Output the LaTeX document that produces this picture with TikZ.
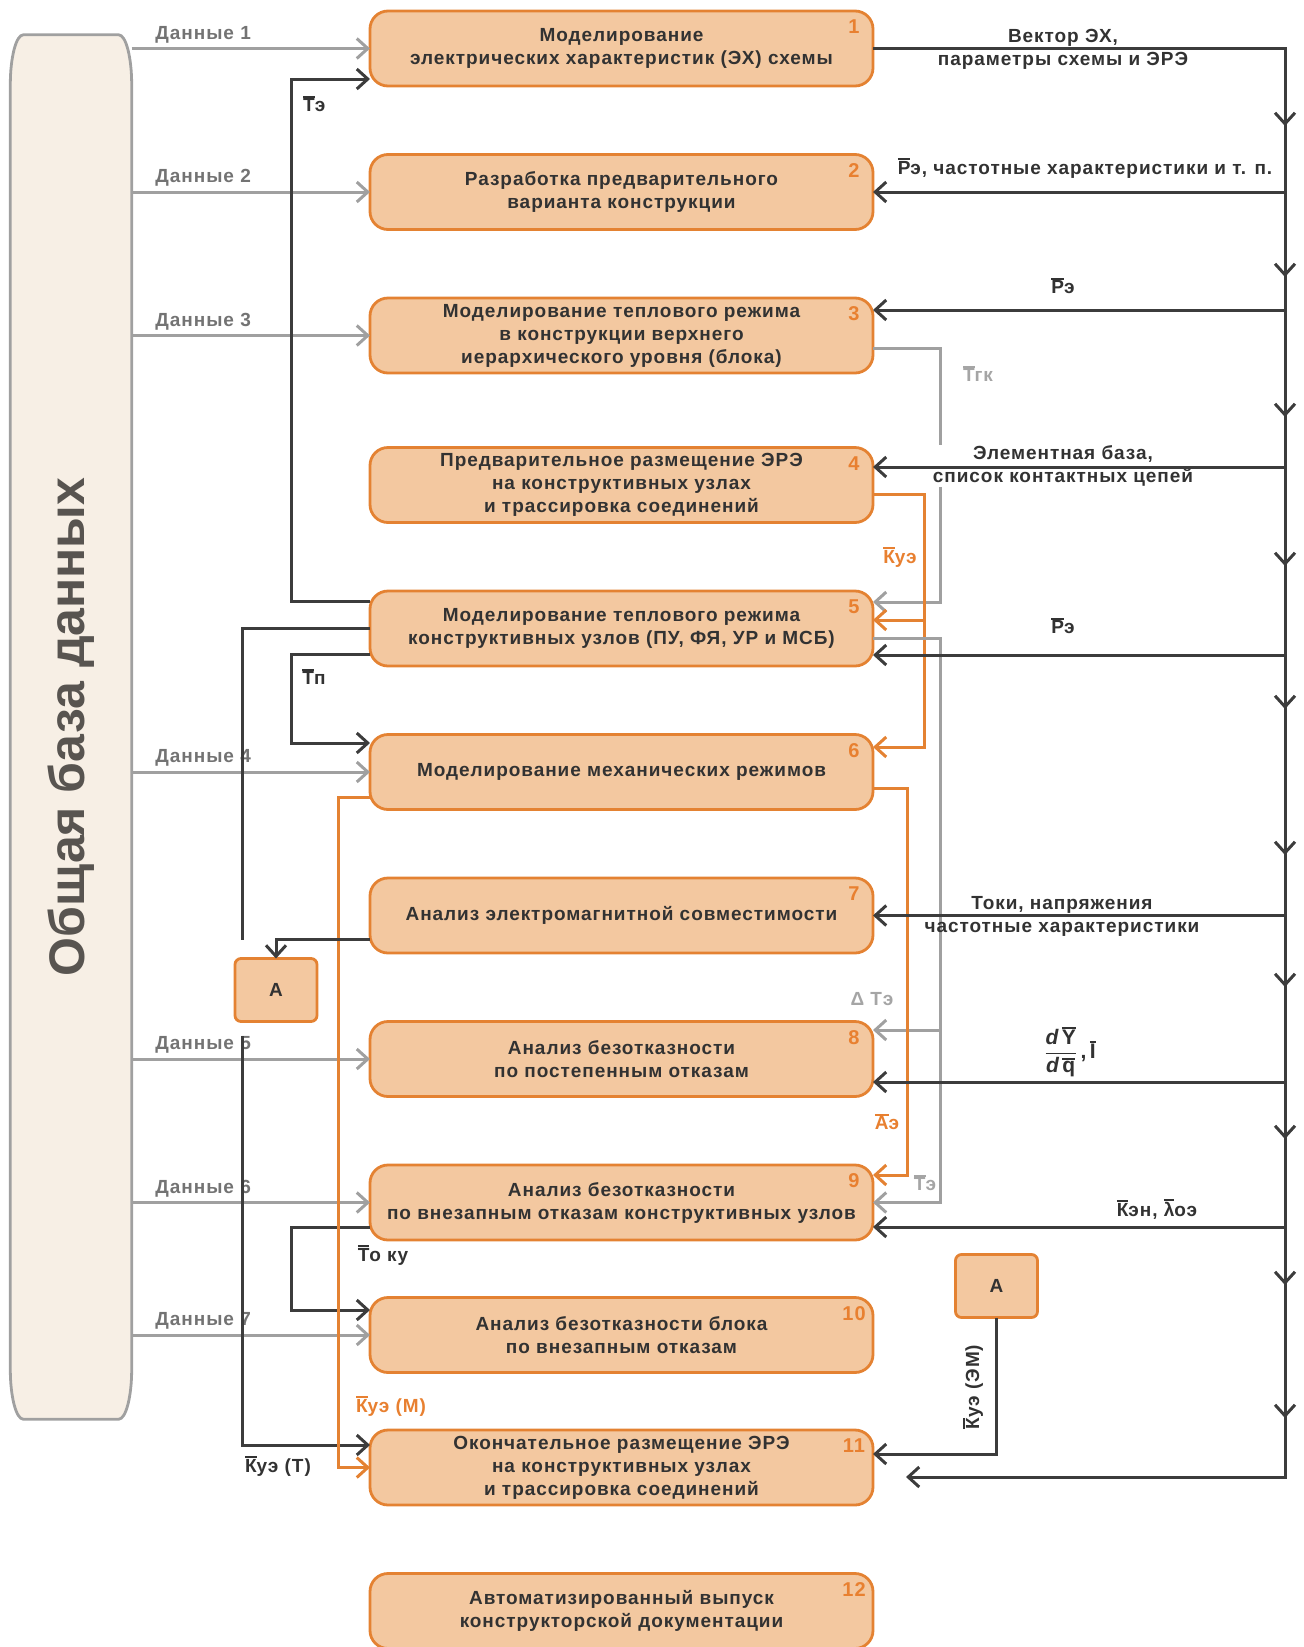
\documentclass[tikz,border=0pt]{standalone}
\usepackage{fontspec}
\setmainfont{Liberation Sans}[LetterSpace=5]
\newfontfamily\dbfamily{Liberation Sans}
\usepackage{tikz}
\usetikzlibrary{positioning,calc,arrows.meta,backgrounds}
\usepackage{xcolor}
\definecolor{boxfill}{RGB}{243,200,160}
\definecolor{boxedge}{RGB}{228,130,50}
\definecolor{numcol}{RGB}{232,128,48}
\definecolor{inkdark}{RGB}{60,60,60}
\definecolor{txtdark}{RGB}{50,50,50}
\definecolor{inkgray}{RGB}{160,160,160}
\definecolor{txtgray}{RGB}{115,115,115}
\definecolor{lblgray}{RGB}{165,165,165}
\definecolor{dbfill}{RGB}{247,239,229}
\definecolor{dbink}{RGB}{88,84,80}
\newcommand{\boxtext}{\fontsize{19}{23}\selectfont\bfseries}
\newcommand{\lbltext}{\fontsize{19}{23}\selectfont\bfseries}
\newcommand{\numtext}{\fontsize{20}{22}\selectfont\bfseries}
\newcommand{\dbtext}{\dbfamily\fontsize{50}{56}\selectfont\bfseries}
\newcommand{\ob}[1]{\leavevmode\vbox{\hrule height 1.6pt\kern 1.3pt\hbox{#1}}}

\begin{document}
\begin{tikzpicture}[x=1pt, y=-1pt,
      node distance=68.5pt,
      stage/.style={
        draw=boxedge, fill=boxfill, line width=2.8pt, rounded corners=18pt,
        minimum width=503pt, minimum height=75pt, inner sep=2pt, outer sep=0pt,
        align=center, text=txtdark, font=\boxtext
      },
      stageno/.style={text=numcol, font=\numtext, inner sep=0pt},
      abox/.style={draw=boxedge, fill=boxfill, line width=2.8pt, rounded corners=6pt,
        minimum width=82pt, minimum height=63pt, outer sep=0pt, text=txtdark, font=\boxtext},
      dbnode/.style={minimum width=121pt, minimum height=1384pt, inner sep=0pt,
        text=dbink, font=\dbtext},
      dbline/.style={draw=inkgray, fill=dbfill, line width=2.8pt},
      flow/.style={draw=inkdark, line width=3pt, -{Straight Barb[length=11pt,width=20pt]}},
      flowline/.style={draw=inkdark, line width=3pt},
      gflow/.style={draw=inkgray, line width=3pt, -{Straight Barb[length=11pt,width=20pt]}},
      oflow/.style={draw=boxedge, line width=3pt, -{Straight Barb[length=11pt,width=20pt]}},
      lbl/.style={text=txtdark, font=\lbltext, align=center, inner sep=1pt},
      glbl/.style={lbl, text=lblgray},
      olbl/.style={lbl, text=numcol},
      dlbl/.style={lbl, text=txtgray, above=3pt, pos=.3}
    ]
      \useasboundingbox (0,0) rectangle (1304,1647);

      \node[stage] at (621.5,48.5) (b1) {Моделирование\\электрических характеристик (ЭХ) схемы};
      \node[stage, below=of b1] (b2) {Разработка предварительного\\варианта конструкции};
      \node[stage, below=of b2] (b3) {Моделирование теплового режима\\в конструкции верхнего\\иерархического уровня (блока)};
      \node[stage, below=74.5pt of b3] (b4) {Предварительное размещение ЭРЭ\\на конструктивных узлах\\и трассировка соединений};
      \node[stage, below=of b4] (b5) {Моделирование теплового режима\\конструктивных узлов (ПУ, ФЯ, УР и МСБ)};
      \node[stage, below=of b5] (b6) {Моделирование механических режимов};
      \node[stage, below=of b6] (b7) {Анализ электромагнитной совместимости};
      \node[stage, below=of b7] (b8) {Анализ безотказности\\по постепенным отказам};
      \node[stage, below=of b8] (b9) {Анализ безотказности\\по внезапным отказам конструктивных узлов};
      \node[stage, below=57.5pt of b9] (b10) {Анализ безотказности блока\\по внезапным отказам};
      \node[stage, below=57.5pt of b10] (b11) {Окончательное размещение ЭРЭ\\на конструктивных узлах\\и трассировка соединений};
      \node[stage, below=of b11] (b12) {Автоматизированный выпуск\\конструкторской документации};
      \foreach \i in {1,...,12}
        \node[stageno] (n\i) at ([xshift=-19pt,yshift=-16pt]b\i.north east) {\i};

      \node[dbnode] (db) at (71,727) {\rotatebox{90}{Общая база данных}};
      \begin{scope}[on background layer]
        \draw[dbline] ([yshift=-50pt]db.north west) arc[start angle=180, end angle=90, x radius=13pt, y radius=50pt]
          -- ([xshift=-13pt]db.north east) arc[start angle=90, end angle=0, x radius=13pt, y radius=50pt]
          -- ([yshift=50pt]db.south east) arc[start angle=0, end angle=-90, x radius=13pt, y radius=50pt]
          -- ([xshift=13pt]db.south west) arc[start angle=270, end angle=180, x radius=13pt, y radius=50pt]
          -- cycle;
      \end{scope}
      \foreach \bx/\dn in {b1/1,b2/2,b3/3,b6/4,b8/5,b9/6,b10/7}
        \draw[gflow] (db.east |- \bx.west) -- node[dlbl] (d\dn) {Данные \dn} (\bx.west);

      \draw[flow] ([yshift=27pt]b5.west) -- ++(-79,0) |- ([yshift=-30.5pt]b1.west);
      \node[lbl, anchor=west] (te1) at (302,104) {\ob{Т}э};
      \coordinate (kt1) at (242,940);
      \coordinate (kt2) at (242,1036);
      \draw[flowline] (b5.west) -| (kt1);
      \draw[flow] (kt2) |- ([yshift=22.5pt]b11.west);
      \node[lbl] (kt) at (278,1466) {\ob{К}уэ (Т)};
      \draw[flow] ([yshift=-26pt]b5.west) -- ++(-79,0) |- ([yshift=29pt]b6.west);
      \node[lbl] (tp) at (314,677) {\ob{Т}п};
      \draw[flow] ([yshift=-24.5pt]b9.west) -- ++(-79,0) |- ([yshift=25pt]b10.west);
      \node[lbl] (toku) at (383,1255) {\ob{Т}о ку};
      \draw[oflow] ([yshift=-25.5pt]b6.west) -- ++(-32,0) |- (b11.west);
      \node[olbl] (kum) at (391,1406) {\ob{К}уэ (М)};
      \node[abox] (aleft) at (276,990) {А};
      \draw[flow] ([yshift=-23.5pt]b7.west) -| (aleft.north);

      \coordinate (bus) at (1285,0);
      \coordinate (busend) at (906,1477);
      \coordinate (kx) at (924,0);
      \coordinate (gx) at (940,0);
      \draw[flow] (b1.east) -| (bus |- busend) -- (busend);
      \foreach \y in {126,277,417,566,709,855,987,1139,1285,1418}
        \draw[flow] (1285,\y-14) -- (1285,\y);
      \node[lbl] (vec) at (1063,49) {Вектор ЭХ,\\параметры схемы и ЭРЭ};
      \draw[flow] (b2.east -| bus) -- (b2.east);
      \node[lbl] (pe1) at (1085,168) {\ob{Р}э, частотные характеристики и т. п.};
      \draw[flow] ([yshift=25.5pt]b3.east -| bus) -- ([yshift=25.5pt]b3.east);
      \node[lbl] (pe2) at (1063,286) {\ob{Р}э};
      \draw[gflow] ([yshift=-12.5pt]b3.east) -- ++(67,0) |- ([yshift=26.5pt]b5.east);
      \node[glbl] (tgk) at (978,374) {\ob{Т}гк};
      \draw[oflow] ([yshift=-9.5pt]b4.east) -- ++(51,0) |- ([yshift=25pt]b6.east);
      \draw[oflow] ([yshift=8.5pt]b5.east -| kx) -- ([yshift=8.5pt]b5.east);
      \node[olbl] (ku) at (900,557) {\ob{К}уэ};
      \node[lbl, fill=white] (elb) at (1063,466) {Элементная база,\\список контактных цепей};
      \draw[flow] ([yshift=18pt]b4.east -| bus) -- ([yshift=18pt]b4.east);
      \draw[gflow] ([yshift=-9.5pt]b5.east) -- ++(67,0) |- (b9.east);
      \draw[gflow] ([yshift=29pt]b8.east -| gx) -- ([yshift=29pt]b8.east);
      \node[glbl] (dte) at (872,999) {Δ Tэ};
      \node[glbl] (te2) at (925,1183) {\ob{Т}э};
      \draw[flow] ([yshift=-26.5pt]b5.east -| bus) -- ([yshift=-26.5pt]b5.east);
      \node[lbl] (pe3) at (1063,626) {\ob{Р}э};
      \draw[oflow] ([yshift=-16pt]b6.east) -- ++(34,0) |- ([yshift=27.5pt]b9.east);
      \node[olbl] (ae) at (887,1122) {\ob{А}э};
      \draw[flow] (b7.east -| bus) -- (b7.east);
      \node[lbl] (tok) at (1062,916) {Токи, напряжения\\частотные характеристики};
      \draw[flow] ([yshift=-23pt]b8.east -| bus) -- ([yshift=-23pt]b8.east);
      \node[lbl, font=\fontsize{21}{24}\selectfont\bfseries] (dyq) at (1070,1052) {$\displaystyle\frac{\mbox{\itshape d\,}\ob{Y}}{\mbox{\itshape d\,}\ob{q}}$\,,\,\ob{I}};
      \draw[flow] ([yshift=-24.5pt]b9.east -| bus) -- ([yshift=-24.5pt]b9.east);
      \node[lbl] (ken) at (1157,1209) {\ob{К}эн, \ob{λ}оэ};
      \node[abox] (aright) at (996.5,1286) {А};
      \draw[flow] (aright.south) |- ([yshift=13.5pt]b11.east);
      \node[lbl, rotate=90] (kem) at (973,1387) {\ob{К}уэ (ЭМ)};
    \end{tikzpicture}
\end{document}
